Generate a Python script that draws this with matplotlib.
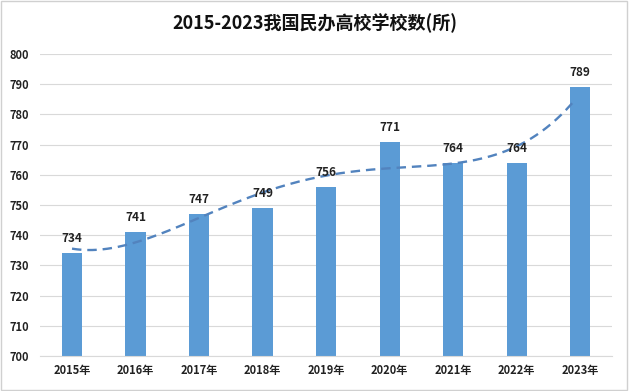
import numpy as np
import matplotlib.pyplot as plt
from matplotlib.patches import Rectangle

plt.rcParams['font.family'] = ['Noto Sans CJK SC', 'DejaVu Sans']

years = ['2015年', '2016年', '2017年', '2018年', '2019年', '2020年', '2021年', '2022年', '2023年']
counts = [734, 741, 747, 749, 756, 771, 764, 764, 789]
title = '2015-2023我国民办高校学校数(所)'

fig = plt.figure(figsize=(6.29, 3.91), dpi=100)
ax = fig.add_axes([0.064, 0.0895, 0.909, 0.7725])

x = np.arange(len(years))
ax.bar(x, counts, width=0.32, color='#5B9BD5', zorder=2)

# polynomial (order 4) trendline fitted to the data
coef = np.polyfit(x, counts, 4)
xs = np.linspace(0, 7.9, 200)
ax.plot(xs, np.polyval(coef, xs), color='#5283BE', lw=1.7,
        ls=(0, (4, 2.5)), zorder=3)

for xi, v in zip(x, counts):
    ax.text(xi, v + 2.6, str(v), ha='center', va='bottom', fontsize=8.5,
            fontweight='bold', color='#222222')

ax.set_xlim(-0.5, len(years) - 0.5)
ax.set_ylim(700, 800)
ax.set_yticks(np.arange(700, 801, 10))
ax.set_xticks(x)
ax.set_xticklabels(years, fontweight='bold')
ax.tick_params(axis='both', length=0, labelsize=8, colors='#222222')
ax.tick_params(axis='x', pad=6)
ax.tick_params(axis='y', pad=8)
for lbl in ax.get_yticklabels():
    lbl.set_fontweight('bold')
ax.grid(axis='y', color='#D9D9D9', lw=0.8, zorder=0)
for s in ['top', 'right', 'left']:
    ax.spines[s].set_visible(False)
ax.spines['bottom'].set_color('#D9D9D9')

fig.text(0.5, 0.94, title, ha='center', va='center', fontsize=13,
         fontweight='bold', color='#111111')

fig.patches.append(Rectangle((0.002, 0.003), 0.995, 0.994, transform=fig.transFigure,
                             fill=False, edgecolor='#D0D0D0', lw=1))

fig.savefig('out.png', dpi=100)
